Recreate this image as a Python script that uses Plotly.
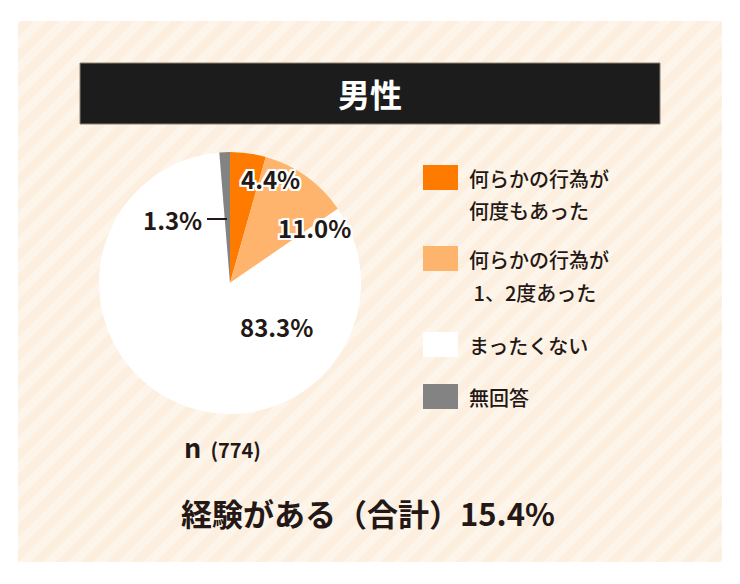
import plotly.graph_objects as go

# ---- data ----
categories = ["何らかの行為が何度もあった", "何らかの行為が1、2度あった", "まったくない", "無回答"]
legend_lines = [["何らかの行為が", "何度もあった"], ["何らかの行為が", " 1、2度あった"], ["まったくない"], ["無回答"]]
values = [4.4, 11.0, 83.3, 1.3]
colors = ["#ff7b00", "#ffb46e", "#ffffff", "#838383"]
title_text = "男性"
n_text = "774"
total_text = "15.4%"

W, H = 740, 584
DARK = "#231815"
FONT = "Noto Sans CJK JP"


def px(x):
    return x / W


def py(y):
    return 1 - y / H


shapes = []
# panel background
PL, PT, PR, PB = 18, 21, 722, 562
shapes.append(dict(type="rect", xref="paper", yref="paper", x0=px(PL), x1=px(PR), y0=py(PB), y1=py(PT),
                   fillcolor="#fef5ea", line=dict(width=0), layer="below"))
# diagonal stripes
for c in range(PL + PT - 40, PR + PB + 40, 25):
    x0, y0 = c - (PB + 20), PB + 20
    x1, y1 = c - (PT - 20), PT - 20
    shapes.append(dict(type="line", xref="paper", yref="paper", x0=px(x0), y0=py(y0), x1=px(x1), y1=py(y1),
                       line=dict(color="#fdefdf", width=9), layer="below"))
# white covers outside panel
for (a, b, cc, d) in [(-50, -50, W + 50, PT), (-50, PB, W + 50, H + 50), (-50, -50, PL, H + 50), (PR, -50, W + 50, H + 50)]:
    shapes.append(dict(type="rect", xref="paper", yref="paper", x0=px(a), x1=px(cc), y0=py(d), y1=py(b),
                       fillcolor="#ffffff", line=dict(width=0), layer="below"))
# title bar
shapes.append(dict(type="rect", xref="paper", yref="paper", x0=px(80), x1=px(660), y0=py(124), y1=py(63),
                   fillcolor="#1c1c1c", line=dict(color="#8a8070", width=1), layer="below"))

annotations = []
annotations.append(dict(text="<b>" + title_text + "</b>", x=px(370), y=py(93), xref="paper", yref="paper",
                        showarrow=False, font=dict(family=FONT, size=32, color="#ffffff"),
                        xanchor="center", yanchor="middle"))

# legend (custom)
sq_top = [165, 246, 332, 384]
line_gap = 33
for i, lines in enumerate(legend_lines):
    t = sq_top[i]
    shapes.append(dict(type="rect", xref="paper", yref="paper", x0=px(423), x1=px(458), y0=py(t + 25), y1=py(t),
                       fillcolor=colors[i], line=dict(width=0)))
    for j, ln in enumerate(lines):
        annotations.append(dict(text=ln, x=px(467), y=py(t + 13 + j * line_gap), xref="paper", yref="paper",
                                showarrow=False, xanchor="left", yanchor="middle",
                                font=dict(family=FONT, size=20, color=DARK, weight=500)))

# slice labels
outline = ("2px 0 0 #fff, -2px 0 0 #fff, 0 2px 0 #fff, 0 -2px 0 #fff, "
           "2px 2px 0 #fff, -2px -2px 0 #fff, 2px -2px 0 #fff, -2px 2px 0 #fff")
label_pos = [(270, 178), (314, 227), (276, 326), (172, 219)]
for i, v in enumerate(values):
    annotations.append(dict(text="<b>%.1f%%</b>" % v, x=px(label_pos[i][0]), y=py(label_pos[i][1]),
                            xref="paper", yref="paper", showarrow=False, xanchor="center", yanchor="middle",
                            font=dict(family=FONT, size=24, color=DARK, shadow=outline)))
# leader line for 1.3%
shapes.append(dict(type="line", xref="paper", yref="paper", x0=px(207), x1=px(227), y0=py(219), y1=py(219),
                   line=dict(color=DARK, width=2)))

# n text
annotations.append(dict(text="<b>n</b><span style='font-size:20px'><b>  (" + n_text + ")</b></span>",
                        x=px(182), y=py(446), xref="paper", yref="paper", showarrow=False,
                        xanchor="left", yanchor="middle", font=dict(family=FONT, size=27, color=DARK)))
# total
annotations.append(dict(text="<b>経験がある（合計）" + total_text + "</b>", x=px(368), y=py(512),
                        xref="paper", yref="paper", showarrow=False, xanchor="center", yanchor="middle",
                        font=dict(family=FONT, size=31, color=DARK)))

cx, cy, r = 230, 283, 131
fig = go.Figure(go.Pie(
    labels=categories, values=values, sort=False, direction="clockwise", rotation=0,
    marker=dict(colors=colors, line=dict(width=0)), textinfo="none", hoverinfo="label+percent",
    domain=dict(x=[px(cx - r), px(cx + r)], y=[py(cy + r), py(cy - r)]), showlegend=False,
))
fig.update_layout(width=W, height=H, margin=dict(l=0, r=0, t=0, b=0), paper_bgcolor="#ffffff",
                  plot_bgcolor="#ffffff", shapes=shapes, annotations=annotations, showlegend=False)
fig.write_html("out.html")
